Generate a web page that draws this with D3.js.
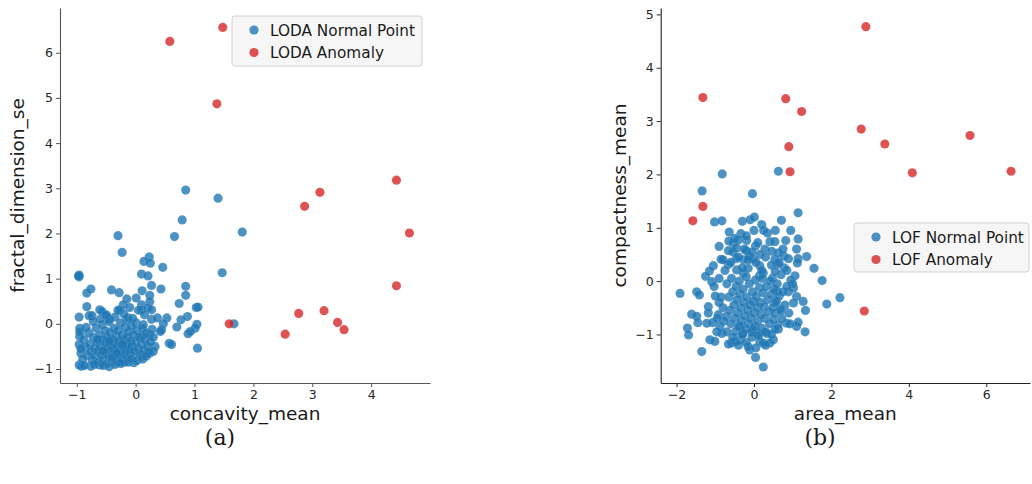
<!DOCTYPE html>
<html>
<head>
<meta charset="utf-8">
<script src="https://cdn.jsdelivr.net/npm/d3@7"></script>
<style>
  body { margin: 0; background: #fff; }
  svg { display: block; }
  .tick text { font-family: "DejaVu Sans", sans-serif; font-size: 12.5px; fill: #262626; }
  .axis-label { font-family: "DejaVu Sans", sans-serif; font-size: 18.5px; fill: #1a1a1a; }
  .legend-text { font-family: "DejaVu Sans", sans-serif; font-size: 15.3px; fill: #1a1a1a; }
  .caption { font-family: "DejaVu Serif", "Liberation Serif", serif; font-size: 22px; fill: #1a1a1a; }
</style>
</head>
<body>
<svg id="chart" width="1032" height="484"></svg>
<script>
// ---- Panel (a): LODA on concavity_mean vs fractal_dimension_se ----
const lodaNormal = [
  [-0.30,1.95],[0.66,1.93],[0.85,2.96],[1.40,2.78],[0.79,2.30],[1.81,2.03],[-0.23,1.58],[1.47,1.13],[1.67,0.00],
  [0.46,1.25],[0.23,1.48],[0.14,1.38],[0.25,1.34],[-0.96,1.08],[-0.96,1.04],
  [-0.97,1.06],[0.10,1.10],[0.21,1.06],[0.85,0.83],[0.43,0.77],[0.27,0.85],[-0.83,0.68],[-0.76,0.77],
  [-0.41,0.75],[-0.28,0.69],[0.11,0.73],[0.24,0.63],[0.85,0.63],[-0.15,0.55],[0.01,0.57],[0.24,0.49],
  [0.10,0.42],[0.74,0.45],[1.03,0.36],[1.06,0.37],[-0.83,0.38],[-0.21,0.42],[-0.10,0.36],[-0.61,0.31],[-0.57,0.27],
  [0.10,0.31],[0.21,0.35],[0.27,0.31],[-0.96,0.15],[-0.79,0.18],[-0.74,0.18],[-0.49,0.16],[-0.45,0.10],
  [-0.27,0.31],[-0.15,0.09],[-0.13,0.13],[0.01,0.02],[0.13,-0.02],[0.27,0.10],[0.37,0.13],[0.53,0.13],
  [0.47,0.00],[0.77,0.09],[0.88,0.16],[1.04,-0.01],[1.01,-0.10],[0.70,-0.07],[0.44,-0.13],[0.42,-0.17],[0.89,-0.22],
  [0.93,-0.17],[0.57,-0.43],[0.61,-0.46],[1.05,-0.54],[-0.95,-0.10],[-0.95,-0.28],[-0.96,-0.46],[-0.93,-0.65],
  [-0.96,-0.91],[-0.92,-0.94],[-0.76,-0.94],[-0.61,-0.91],[-0.19,-0.85],[-0.03,-0.86],[0.10,-0.72],[0.24,-0.65],
  [0.33,-0.50],[0.30,-0.61],[0.10,-0.28],[0.24,-0.24],
  [-0.88,-0.35],[-0.85,-0.52],[-0.82,-0.70],[-0.80,-0.20],[-0.78,-0.45],[-0.76,-0.62],[-0.74,-0.80],[-0.72,-0.30],
  [-0.70,-0.55],[-0.69,-0.72],[-0.67,-0.10],[-0.66,-0.40],[-0.64,-0.60],[-0.63,-0.85],[-0.61,-0.25],[-0.60,-0.50],
  [-0.58,-0.68],[-0.57,-0.02],[-0.56,-0.35],[-0.55,-0.78],[-0.53,-0.55],[-0.52,-0.15],[-0.51,-0.42],[-0.50,-0.65],
  [-0.49,-0.88],[-0.48,-0.30],[-0.47,-0.52],[-0.46,-0.72],[-0.45,0.05],[-0.44,-0.20],[-0.43,-0.45],[-0.42,-0.60],
  [-0.41,-0.80],[-0.40,-0.35],[-0.39,-0.55],[-0.38,-0.68],[-0.37,-0.10],[-0.36,-0.42],[-0.35,-0.62],[-0.34,-0.75],
  [-0.33,-0.28],[-0.32,-0.50],[-0.31,-0.85],[-0.30,-0.15],[-0.29,-0.38],[-0.28,-0.58],[-0.27,-0.70],[-0.26,0.02],
  [-0.25,-0.45],[-0.24,-0.62],[-0.23,-0.25],[-0.22,-0.80],[-0.21,-0.52],[-0.20,-0.35],[-0.19,-0.68],[-0.18,-0.08],
  [-0.17,-0.48],[-0.16,-0.60],[-0.15,-0.30],[-0.14,-0.75],[-0.13,-0.42],[-0.12,-0.18],[-0.11,-0.55],[-0.10,-0.65],
  [-0.08,-0.38],[-0.07,-0.05],[-0.06,-0.50],[-0.05,-0.72],[-0.04,-0.25],[-0.02,-0.60],[0.00,-0.40],[0.02,-0.15],
  [0.04,-0.55],[0.06,-0.30],[0.08,-0.68],[0.10,-0.45],[0.12,-0.10],[0.14,-0.58],[0.16,-0.35],[0.18,-0.20],
  [0.20,-0.50],[0.22,-0.62],[0.25,-0.40],[0.28,-0.12],[0.30,-0.30],
  [-0.95,-0.18],[-0.93,-0.55],[-0.90,-0.78],[-0.87,-0.92],[-0.84,-0.08],[-0.70,-0.90],[-0.55,-0.92],[-0.45,-0.95],
  [-0.35,-0.90],[-0.25,-0.88],[-0.60,0.10],[-0.72,0.05],[-0.50,0.20],[-0.35,0.15],[-0.20,0.22],[-0.05,0.12],
  [0.05,0.30],[0.15,0.20],[-0.30,0.30],[-0.65,-0.35],[-0.55,-0.60],[-0.45,-0.38],[-0.40,-0.75],[-0.32,-0.65],
  [-0.22,-0.45],[-0.12,-0.85],[-0.08,-0.78],[0.02,-0.82],[0.12,-0.78],[0.18,-0.72]
];
const lodaAnomaly = [
  [0.58,6.25],[1.48,6.56],[1.38,4.87],[4.43,3.18],[3.13,2.91],[2.87,2.60],[4.65,2.01],[4.43,0.84],
  [2.77,0.23],[3.20,0.29],[3.43,0.03],[3.54,-0.13],[2.54,-0.23],[1.59,0.00]
];
const lodaXTicks = [-1, 0, 1, 2, 3, 4];
const lodaYTicks = [-1, 0, 1, 2, 3, 4, 5, 6];

// ---- Panel (b): LOF on area_mean vs compactness_mean ----
const lofNormal = [
  [-0.82,2.01],[0.63,2.06],[-1.34,1.69],[-0.04,1.64],[1.14,1.28],[-1.02,1.11],[-0.83,1.13],[-0.30,1.12],
  [-0.10,1.15],[0.01,1.20],[0.20,1.06],[0.71,1.14],[0.95,0.95],[-0.64,0.92],[-0.34,0.89],[1.14,0.79],
  [0.41,0.74],[0.54,0.74],[0.82,0.76],[-0.53,0.71],[-0.40,0.77],[-0.19,0.76],[-0.90,0.65],[-0.66,0.57],
  [0.04,0.66],[1.10,0.60],[0.28,0.60],[0.46,0.56],[0.63,0.53],[-0.20,0.57],[1.36,0.46],[0.77,0.47],
  [0.89,0.42],[1.14,0.42],[-0.46,0.42],[-0.27,0.40],[-0.12,0.46],[-0.02,0.41],[-0.85,0.41],[0.54,0.41],
  [-1.05,0.29],[-0.66,0.31],[0.15,0.29],[1.12,0.34],[0.60,0.32],[1.55,0.24],[-1.15,0.19],[-1.25,0.09],
  [-0.45,0.21],[-0.28,0.15],[-0.15,0.24],[0.14,0.10],[0.24,0.15],[0.48,0.06],[1.06,0.10],[0.95,0.02],
  [1.76,0.01],[-1.91,-0.23],[-1.48,-0.20],[-1.41,-0.26],[-1.09,-0.01],[-1.03,-0.10],[2.22,-0.31],[1.88,-0.43],
  [1.27,-0.38],[1.33,-0.55],[0.89,-0.20],[1.02,-0.13],[1.10,-0.29],[1.02,-0.41],[0.59,-0.19],[0.54,-0.40],
  [-1.61,-0.62],[-1.48,-0.66],[-1.45,-0.78],[-1.72,-0.88],[-1.69,-1.01],[-1.18,-0.48],[-1.18,-0.60],
  [-0.92,-0.63],[-0.71,-0.66],[-1.22,-0.79],[-1.07,-0.78],[-0.88,-0.85],[-1.14,-1.10],[-1.01,-1.13],
  [-1.35,-1.32],[1.10,-0.85],[1.14,-0.77],[1.32,-0.95],[0.63,-0.90],[0.84,-0.79],[0.93,-0.80],[0.50,-1.10],
  [0.41,-1.16],[0.04,-1.43],[0.24,-1.61],[-0.11,-1.29],[-0.15,-1.23],[-0.58,-1.16],[-0.66,-1.18],[0.15,-1.13],
  [0.24,-1.16],[-0.35,-1.10],[-0.49,-1.13],[-0.02,-0.91],[0.11,-0.98],[0.33,-0.98],[-0.96,-0.95],[-0.83,-0.98],
  [-0.28,-0.98],[-0.36,-0.85],
  [-0.70,-0.05],[-0.65,-0.30],[-0.62,-0.55],[-0.60,-0.80],[-0.58,0.05],[-0.55,-0.20],[-0.52,-0.45],[-0.50,-0.70],
  [-0.48,-0.95],[-0.46,-0.10],[-0.44,-0.35],[-0.42,-0.60],[-0.40,-0.85],[-0.38,0.00],[-0.36,-0.25],[-0.34,-0.50],
  [-0.32,-0.75],[-0.30,-1.00],[-0.28,-0.15],[-0.26,-0.40],[-0.24,-0.65],[-0.22,-0.90],[-0.20,0.08],[-0.18,-0.30],
  [-0.16,-0.55],[-0.14,-0.80],[-0.12,-0.05],[-0.10,-0.45],[-0.08,-0.70],[-0.06,-0.95],[-0.04,-0.20],[-0.02,-0.38],
  [0.00,-0.60],[0.02,-0.85],[0.04,0.02],[0.06,-0.28],[0.08,-0.50],[0.10,-0.75],[0.12,-1.02],[0.14,-0.12],
  [0.16,-0.40],[0.18,-0.62],[0.20,-0.88],[0.22,0.05],[0.24,-0.22],[0.26,-0.48],[0.28,-0.70],[0.30,-0.95],
  [0.32,-0.10],[0.35,-0.35],[0.38,-0.58],[0.40,-0.80],[0.42,0.00],[0.45,-0.25],[0.48,-0.50],[0.50,-0.72],
  [0.52,-0.15],[0.55,-0.60],[0.58,-0.38],[0.60,-0.05],[0.62,-0.82],[0.65,-0.28],[0.68,-0.52],[0.70,0.12],
  [0.72,-0.70],[0.75,-0.20],[0.78,0.25],[0.80,-0.45],
  [-0.80,0.40],[-0.75,0.20],[-0.60,0.35],[-0.55,0.55],[-0.45,0.62],[-0.40,0.45],[-0.30,0.25],[-0.25,0.60],
  [-0.15,0.40],[-0.05,0.55],[0.05,0.35],[0.10,0.72],[0.15,0.50],[0.20,0.20],[0.30,0.45],[0.35,0.90],
  [0.45,0.30],[0.55,0.18],[0.65,0.35],[0.85,0.20],[-0.90,0.05],[-0.85,-0.30],[-0.80,-0.50],[-0.78,-0.75],
  [-0.90,-0.40],[-1.00,-0.28],[-0.95,-0.70],[-0.70,-0.95],[-0.55,-1.05],[-0.40,-1.20],[-0.20,-1.15],[-0.05,-1.05],
  [0.05,-1.25],[0.30,-1.20],[0.45,-1.00],[0.55,-0.90],[0.70,-0.55],[0.90,-0.60],[1.00,-0.05],[0.85,-0.10],
  [-0.20,0.85],[-0.50,0.80],[0.00,0.95],[0.25,0.95],[0.55,0.95],[-0.65,0.75],[0.75,0.60]
];
const lofAnomaly = [
  [2.89,4.77],[-1.32,3.44],[0.82,3.42],[1.23,3.18],[2.77,2.85],[5.58,2.73],[3.38,2.57],[0.90,2.52],
  [0.93,2.05],[4.09,2.03],[6.64,2.06],[-1.32,1.40],[-1.58,1.13],[2.85,-0.56]
];
const lofXTicks = [-2, 0, 2, 4, 6];
const lofYTicks = [-1, 0, 1, 2, 3, 4, 5];

const blue = "#1f77b4", red = "#d62728";
const svg = d3.select("#chart");

function panel(cfg) {
  const x = d3.scaleLinear().domain(cfg.xDomain).range([cfg.left, cfg.right]);
  const y = d3.scaleLinear().domain(cfg.yDomain).range([cfg.bottom, cfg.top]);
  const g = svg.append("g");

  const series = [
    { data: cfg.normal, color: blue },
    { data: cfg.anomaly, color: red }
  ];
  series.forEach(s => {
    g.append("g").selectAll("circle").data(s.data).join("circle")
      .attr("cx", d => x(d[0])).attr("cy", d => y(d[1])).attr("r", 4.6)
      .attr("fill", s.color).attr("fill-opacity", 0.8)
      .attr("stroke", "#fff").attr("stroke-opacity", 0.25).attr("stroke-width", 0.4);
  });

  const fmt = d => d < 0 ? "\u2212" + Math.abs(d) : d;
  const xAxis = g.append("g").attr("transform", `translate(0,${cfg.bottom})`)
    .call(d3.axisBottom(x).tickValues(cfg.xTicks).tickFormat(fmt).tickSize(4).tickPadding(3).tickSizeOuter(0));
  const yAxis = g.append("g").attr("transform", `translate(${cfg.left},0)`)
    .call(d3.axisLeft(y).tickValues(cfg.yTicks).tickFormat(fmt).tickSize(4).tickPadding(3).tickSizeOuter(0));
  [xAxis, yAxis].forEach(a => {
    a.select(".domain").attr("stroke", cfg.spine).attr("stroke-width", 1.1);
    a.selectAll(".tick line").attr("stroke", cfg.spine);
  });

  g.append("text").attr("class", "axis-label")
    .attr("x", (cfg.left + cfg.right) / 2).attr("y", cfg.bottom + 37)
    .attr("text-anchor", "middle").text(cfg.xLabel);
  g.append("text").attr("class", "axis-label")
    .attr("transform", `translate(${cfg.yLabelX},${(cfg.top + cfg.bottom) / 2}) rotate(-90)`)
    .attr("text-anchor", "middle").text(cfg.yLabel);

  // legend
  const L = cfg.legend;
  const lg = g.append("g").attr("transform", `translate(${L.x},${L.y})`);
  lg.append("rect").attr("width", L.w).attr("height", L.h).attr("rx", 3)
    .attr("fill", "#f5f5f5").attr("fill-opacity", 0.9).attr("stroke", "#d0d0d0");
  L.items.forEach((t, i) => {
    lg.append("circle").attr("cx", 22).attr("cy", 14 + i * 22.5).attr("r", 4.6)
      .attr("fill", series[i].color).attr("fill-opacity", 0.8);
    lg.append("text").attr("class", "legend-text").attr("x", 38).attr("y", 19.5 + i * 22.5).text(t);
  });

  svg.append("text").attr("class", "caption")
    .attr("x", cfg.captionX).attr("y", 445).attr("text-anchor", "middle").text(cfg.caption);
}

panel({
  normal: lodaNormal, anomaly: lodaAnomaly,
  xDomain: [-1.285, 5.0], yDomain: [-1.31, 6.99],
  left: 60, right: 430, top: 8, bottom: 383,
  xTicks: lodaXTicks, yTicks: lodaYTicks,
  xLabel: "concavity_mean", yLabel: "fractal_dimension_se", yLabelX: 24,
  spine: "#555",
  legend: { x: 232, y: 16, w: 190, h: 50, items: ["LODA Normal Point", "LODA Anomaly"] },
  caption: "(a)", captionX: 220
});

panel({
  normal: lofNormal, anomaly: lofAnomaly,
  xDomain: [-2.41, 7.13], yDomain: [-1.91, 5.12],
  left: 660.7, right: 1030, top: 8, bottom: 383,
  xTicks: lofXTicks, yTicks: lofYTicks,
  xLabel: "area_mean", yLabel: "compactness_mean", yLabelX: 626,
  spine: "#222",
  legend: { x: 854, y: 223, w: 175, h: 49, items: ["LOF Normal Point", "LOF Anomaly"] },
  caption: "(b)", captionX: 820
});
</script>
</body>
</html>
